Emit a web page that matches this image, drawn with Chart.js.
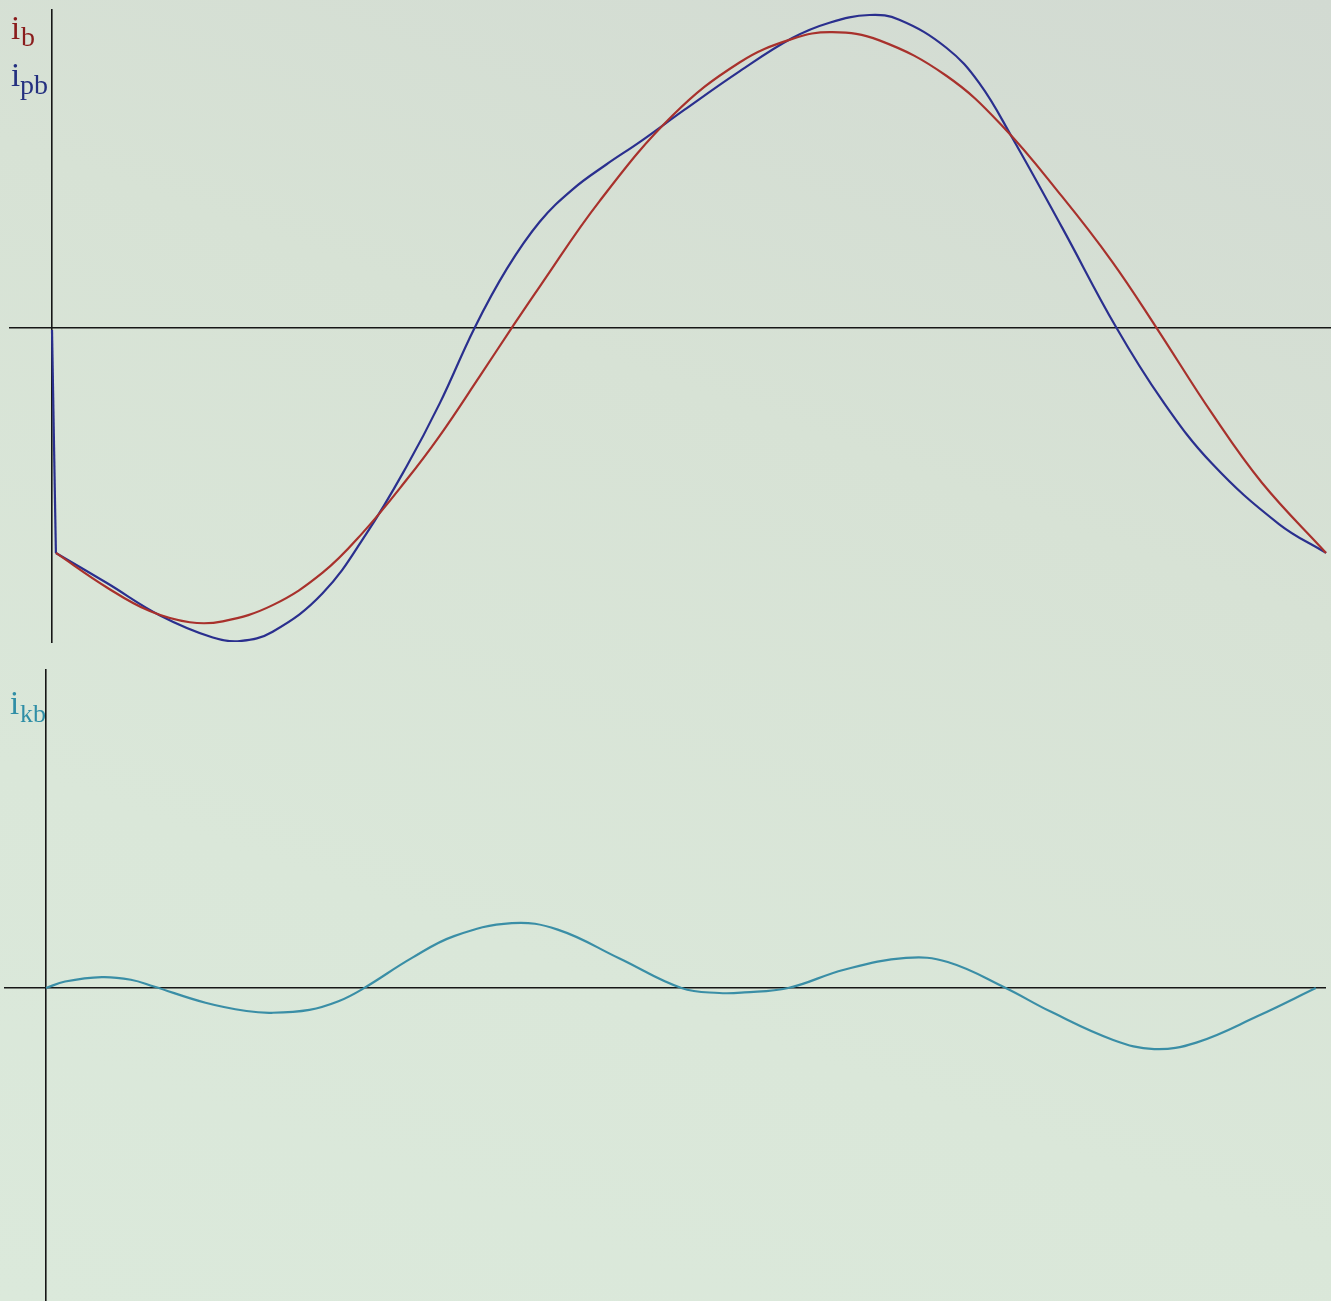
<!DOCTYPE html>
<html>
<head>
<meta charset="utf-8">
<script src="https://cdn.jsdelivr.net/npm/chart.js@4/dist/chart.umd.min.js"></script>
<style>
  html, body { margin: 0; padding: 0; }
  body {
    width: 1331px; height: 1301px; overflow: hidden; position: relative;
    background: linear-gradient(200deg, #d2dad2 0%, #d7e2d5 35%, #dae7d9 70%, #dbe9db 100%);
    font-family: "Liberation Serif", "DejaVu Serif", serif;
  }
  canvas { position: absolute; left: 0; }
  #top { top: 0; }
  #bottom { top: 660px; }
  .lbl { position: absolute; line-height: 1; white-space: nowrap; }
  .main { font-size: 33px; }
  .sub { font-size: 28px; }
  .sub2 { font-size: 26px; }
</style>
</head>
<body>
<canvas id="top" width="1331" height="660"></canvas>
<canvas id="bottom" width="1331" height="641"></canvas>

<!-- axis labels: i with subscript -->
<span class="lbl main" style="left:11px; top:12px; color:#8a1c1c;">i</span>
<span class="lbl sub"  style="left:21px; top:23px; color:#8a1c1c;">b</span>
<span class="lbl main" style="left:11px; top:59px; color:#243080;">i</span>
<span class="lbl sub"  style="left:20px; top:71px; color:#243080;">pb</span>
<span class="lbl main" style="left:10px; top:687px; color:#2f8ea6;">i</span>
<span class="lbl sub2" style="left:20px; top:701px; color:#2f8ea6;">kb</span>

<script>
// Phase angle ωt in degrees and the currents (A) along one period.

// load current i_b
const ibAngle = [1.1, 15.5, 27.6, 38.9, 48.2, 62.3, 76.4, 87.7, 100.1, 109.5, 120.7, 129.8, 137.7, 154.6, 175.2, 194.1, 209.0, 220.3, 233.6, 252.5, 268.3, 285.2, 299.3, 311.7, 327.5, 341.6, 359.7];
const ibValue = [-7.63, -8.80, -9.60, -9.98, -9.95, -9.40, -8.30, -6.95, -5.15, -3.65, -1.65, 0.0, 1.40, 4.30, 7.20, 9.00, 9.80, 10.03, 9.75, 8.55, 6.85, 4.45, 2.25, 0.03, -2.90, -5.25, -7.63];

// supply current i_pb: the switching jump at ωt = 0, then one period
const ipbJumpAngle = [0.0, 1.1];
const ipbJumpValue = [-0.07, -7.63];
const ipbAngle = [1.1, 15.5, 30.5, 45.4, 53.0, 62.3, 76.4, 88.9, 100.1, 109.5, 119.3, 128.4, 137.7, 147.0, 156.6, 165.9, 178.6, 194.1, 209.0, 219.5, 230.8, 239.2, 252.5, 261.8, 271.1, 285.2, 300.4, 313.4, 327.5, 346.4, 359.7];
const ipbValue = [-7.63, -8.65, -9.75, -10.50, -10.62, -10.30, -9.00, -6.95, -4.70, -2.55, 0.0, 2.00, 3.60, 4.70, 5.55, 6.30, 7.40, 8.70, 9.83, 10.35, 10.61, 10.45, 9.50, 8.30, 6.45, 3.40, 0.03, -2.45, -4.60, -6.65, -7.63];

// compensating current i_kb
const ikbAngle = [0.0, 5.4, 15.8, 24.0, 30.5, 45.1, 56.7, 63.8, 74.5, 82.7, 89.7, 103.5, 115.4, 131.7, 144.7, 162.2, 179.7, 190.4, 197.5, 209.9, 225.7, 243.2, 255.0, 271.4, 284.1, 301.8, 313.4, 325.3, 342.7, 359.1];
const ikbValue = [0.0, 0.22, 0.37, 0.28, 0.05, -0.50, -0.78, -0.84, -0.74, -0.45, -0.02, 1.02, 1.76, 2.20, 1.98, 1.00, 0.0, -0.17, -0.15, 0.0, 0.62, 1.02, 0.88, 0.0, -0.80, -1.76, -2.07, -1.85, -0.95, 0.0];

const pts = (xs, ys) => xs.map((x, i) => ({ x: x, y: ys[i] }));

function line(data, color, tension) {
  return {
    data: data,
    borderColor: color,
    borderWidth: 2.2,
    pointRadius: 0,
    fill: false,
    tension: tension
  };
}

function axes(xMin, xMax, yMin, yMax) {
  const border = { display: true, color: '#161616', width: 1.6 };
  return {
    x: {
      type: 'linear', min: xMin, max: xMax, position: { y: 0 },
      grid: { display: false, drawTicks: false }, ticks: { display: false }, border: border
    },
    y: {
      type: 'linear', min: yMin, max: yMax, position: { x: 0 },
      grid: { display: false, drawTicks: false }, ticks: { display: false }, border: border
    }
  };
}

function makeChart(id, datasets, scales, padding) {
  return new Chart(document.getElementById(id), {
    type: 'line',
    data: { datasets: datasets },
    options: {
      responsive: false,
      animation: false,
      devicePixelRatio: 1,
      parsing: false,
      layout: { padding: padding },
      plugins: { legend: { display: false }, tooltip: { enabled: false } },
      scales: scales
    }
  });
}

// upper panel: i_b and i_pb
makeChart('top', [
  line(pts(ibAngle, ibValue), '#a8312c', 0.4),
  line(pts(ipbJumpAngle, ipbJumpValue), '#2a2f8e', 0),
  line(pts(ipbAngle, ipbValue), '#2a2f8e', 0.4)
], axes(-11.86, 361.1, -10.65, 10.78), { left: 10, right: 0, top: 10, bottom: 18 });

// lower panel: i_kb
makeChart('bottom', [
  line(pts(ikbAngle, ikbValue), '#3a8ea6', 0.4)
], axes(-11.6, 361.7, -10.61, 10.78), { left: 5, right: 6, top: 10, bottom: 0 });
</script>
</body>
</html>
